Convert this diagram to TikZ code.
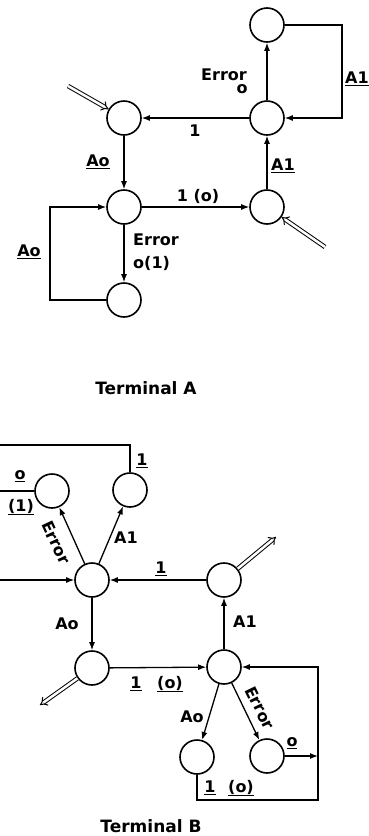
\documentclass[tikz,border=0pt]{standalone}
\usepackage{fontspec}
\setmainfont{DejaVu Sans}
\usetikzlibrary{arrows.meta}
\begin{document}
\begin{tikzpicture}[x=1pt,y=-1pt,
  st/.style={circle,draw,line width=1.6pt,minimum size=34pt,inner sep=0pt},
  ar/.style={line width=1.3pt,-{Latex[length=8pt,width=6pt]}},
  ln/.style={line width=1.3pt},
  dbl/.style={double,double distance=2.5pt,line width=1pt,-{Implies}},
  lbl/.style={font=\bfseries\fontsize{16}{16}\selectfont,inner sep=1pt},
  ttl/.style={font=\bfseries\fontsize{17}{17}\selectfont,inner sep=1pt},
]
\useasboundingbox (0,0) rectangle (369,836);
% ---------------- Terminal A ----------------
\node[st] (aT)  at (267,25)  {};
\node[st] (aR)  at (267,118) {};
\node[st] (aL)  at (124,118) {};
\node[st] (aM)  at (124,207) {};
\node[st] (aR2) at (267,207) {};
\node[st] (aB)  at (124,300) {};
\coordinate (aTr) at (342,25);
\coordinate (aRr) at (342,118);
\coordinate (aBl) at (50,300);
\coordinate (aMl) at (50,207);
\coordinate (aIn1) at (68,86);
\coordinate (aIn2) at (325,247);

\draw[ar] (aR) -- (aT);
\draw[ar] (aT.east) -- (aTr) -- (aRr) -- (aR.east);
\draw[ar] (aR) -- (aL);
\draw[dbl] (aIn1) -- (aL);
\draw[ar] (aL) -- (aM);
\draw[ar] (aM) -- (aR2);
\draw[ar] (aR2) -- (aR);
\draw[dbl] (aIn2) -- (aR2);
\draw[ar] (aM) -- (aB);
\draw[ar] (aB.west) -- (aBl) -- (aMl) -- (aM.west);

\node[lbl] (lA1a) at (357,79) {\underline{A1}};
\node[lbl] (lEa) at (224,75) {Error};
\node[lbl] (lOa) at (242,89) {o};
\node[lbl] (l1a) at (195,131) {1};
\node[lbl] (lAoa) at (98,162) {\underline{Ao}};
\node[lbl] (l1oa) at (198,196) {1 (o)};
\node[lbl] (lA1b) at (283,166) {\underline{A1}};
\node[lbl,anchor=west] (lEb) at (132,240) {Error};
\node[lbl,anchor=west] (lO1) at (132,263) {o(1)};
\node[lbl] (lAob) at (29,252) {\underline{Ao}};
\node[ttl] (tA) at (146,388) {Terminal A};

% ---------------- Terminal B ----------------
\node[st] (bE)  at (52,491)  {};
\node[st] (bU)  at (130,490) {};
\node[st] (bC)  at (92,580)  {};
\node[st] (bRB) at (224,580) {};
\node[st] (bD)  at (92,668)  {};
\node[st] (bF)  at (224,667) {};
\node[st] (bG)  at (197,757) {};
\node[st] (bH)  at (267,756) {};
\coordinate (bTop0) at (0,445);
\coordinate (bTop1) at (130,445);
\coordinate (bEl) at (0,491);
\coordinate (bCl) at (0,580);
\coordinate (bOut1) at (276,537);
\coordinate (bOut2) at (40,705);
\coordinate (bHr) at (318,756);
\coordinate (bVt) at (318,667);
\coordinate (bVb) at (318,800);
\coordinate (bGb) at (197,800);

\draw[ln] (bTop0) -- (bTop1) -- (bU.north);
\draw[ln] (bEl) -- (bE.west);
\draw[ar] (bCl) -- (bC);
\draw[ar] (bC) -- (bE);
\draw[ar] (bC) -- (bU);
\draw[ar] (bRB) -- (bC);
\draw[dbl] (bRB) -- (bOut1);
\draw[ar] (bC) -- (bD);
\draw[ar] (bD) -- (bF);
\draw[dbl] (bD) -- (bOut2);
\draw[ar] (bF) -- (bRB);
\draw[ar] (bF) -- (bG);
\draw[ar] (bF) -- (bH);
\draw[ar] (bH.east) -- (bHr);
\draw[ar] (bG.south) -- (bGb) -- (bVb) -- (bVt) -- (bF.east);

\node[lbl] (m1) at (142,461) {\underline{1}};
\node[lbl] (mo) at (20,476) {\underline{o}};
\node[lbl] (m1p) at (21,507) {\underline{(1)}};
\node[lbl,rotate=-65] (mErr1) at (56,543) {Error};
\node[lbl] (mA1) at (126,538) {A1};
\node[lbl] (m1b) at (161,569) {\underline{1}};
\node[lbl] (mAo) at (67,624) {Ao};
\node[lbl] (m1c) at (136,684) {\underline{1}};
\node[lbl] (moc) at (170,684) {\underline{(o)}};
\node[lbl] (mA1b) at (245,622) {A1};
\node[lbl] (mAob) at (192,717) {Ao};
\node[lbl,rotate=-64] (mErr2) at (260,708) {Error};
\node[lbl] (mo2) at (292,743) {\underline{o}};
\node[lbl] (m1d) at (210,788) {\underline{1}};
\node[lbl] (mod) at (241,788) {\underline{(o)}};
\node[ttl] (tB) at (151,826) {Terminal B};
\end{tikzpicture}
\end{document}
